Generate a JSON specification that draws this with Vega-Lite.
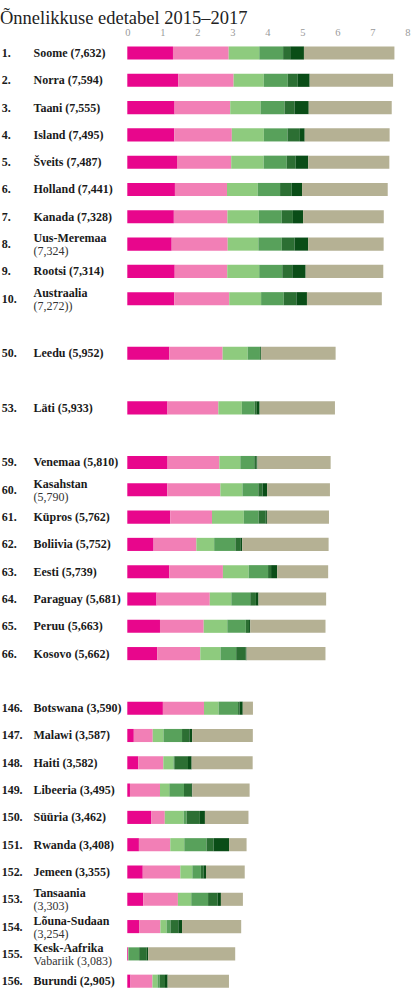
{
  "$schema": "https://vega.github.io/schema/vega-lite/v6.json",
  "width": 415,
  "height": 955.5,
  "autosize": {"type": "none"},
  "padding": {"top": 39.35, "left": 0, "right": 0, "bottom": 0},
  "title": {
    "text": "Õnnelikkuse edetabel 2015–2017",
    "anchor": "start",
    "font": "Liberation Serif",
    "fontSize": 18.5,
    "fontWeight": "normal",
    "color": "#222222",
    "offset": 0
  },
  "config": {"view": {"stroke": null}},
  "data": {
    "values": [
      {"k": "1", "r": "1.", "t1": "Soome (7,632)", "a": 1.305, "b": 1.592, "c": 0.874, "d": 0.681, "e": 0.202, "f": 0.393, "g": 2.585},
      {"k": "2", "r": "2.", "t1": "Norra (7,594)", "a": 1.456, "b": 1.582, "c": 0.861, "d": 0.686, "e": 0.286, "f": 0.340, "g": 2.383},
      {"k": "3", "r": "3.", "t1": "Taani (7,555)", "a": 1.351, "b": 1.590, "c": 0.868, "d": 0.683, "e": 0.284, "f": 0.408, "g": 2.371},
      {"k": "4", "r": "4.", "t1": "Island (7,495)", "a": 1.343, "b": 1.644, "c": 0.914, "d": 0.677, "e": 0.353, "f": 0.138, "g": 2.426},
      {"k": "5", "r": "5.", "t1": "Šveits (7,487)", "a": 1.420, "b": 1.549, "c": 0.927, "d": 0.660, "e": 0.256, "f": 0.357, "g": 2.318},
      {"k": "6", "r": "6.", "t1": "Holland (7,441)", "a": 1.361, "b": 1.488, "c": 0.878, "d": 0.638, "e": 0.333, "f": 0.295, "g": 2.448},
      {"k": "7", "r": "7.", "t1": "Kanada (7,328)", "a": 1.330, "b": 1.532, "c": 0.896, "d": 0.653, "e": 0.321, "f": 0.291, "g": 2.305},
      {"k": "8", "r": "8.", "t1": "Uus-Meremaa", "t2": "(7,324)", "a": 1.268, "b": 1.601, "c": 0.876, "d": 0.669, "e": 0.365, "f": 0.389, "g": 2.156},
      {"k": "9", "r": "9.", "t1": "Rootsi (7,314)", "a": 1.355, "b": 1.501, "c": 0.913, "d": 0.659, "e": 0.285, "f": 0.383, "g": 2.218},
      {"k": "10", "r": "10.", "t1": "Austraalia", "t2": "(7,272))", "a": 1.340, "b": 1.573, "c": 0.910, "d": 0.647, "e": 0.361, "f": 0.302, "g": 2.139},
      {"k": "50", "r": "50.", "t1": "Leedu (5,952)", "a": 1.197, "b": 1.527, "c": 0.716, "d": 0.350, "e": 0.026, "f": 0.006, "g": 2.130},
      {"k": "53", "r": "53.", "t1": "Läti (5,933)", "a": 1.148, "b": 1.454, "c": 0.671, "d": 0.363, "e": 0.065, "f": 0.080, "g": 2.152},
      {"k": "59", "r": "59.", "t1": "Venemaa (5,810)", "a": 1.151, "b": 1.479, "c": 0.599, "d": 0.399, "e": 0.065, "f": 0.025, "g": 2.092},
      {"k": "60", "r": "60.", "t1": "Kasahstan", "t2": "(5,790)", "a": 1.143, "b": 1.516, "c": 0.631, "d": 0.454, "e": 0.121, "f": 0.129, "g": 1.796},
      {"k": "61", "r": "61.", "t1": "Küpros (5,762)", "a": 1.229, "b": 1.191, "c": 0.909, "d": 0.423, "e": 0.202, "f": 0.035, "g": 1.773},
      {"k": "62", "r": "62.", "t1": "Boliivia (5,752)", "a": 0.751, "b": 1.223, "c": 0.508, "d": 0.606, "e": 0.141, "f": 0.054, "g": 2.469},
      {"k": "63", "r": "63.", "t1": "Eesti (5,739)", "a": 1.200, "b": 1.532, "c": 0.737, "d": 0.553, "e": 0.086, "f": 0.174, "g": 1.457},
      {"k": "64", "r": "64.", "t1": "Paraguay (5,681)", "a": 0.835, "b": 1.522, "c": 0.615, "d": 0.541, "e": 0.162, "f": 0.074, "g": 1.932},
      {"k": "65", "r": "65.", "t1": "Peruu (5,663)", "a": 0.934, "b": 1.249, "c": 0.674, "d": 0.530, "e": 0.092, "f": 0.034, "g": 2.150},
      {"k": "66", "r": "66.", "t1": "Kosovo (5,662)", "a": 0.855, "b": 1.230, "c": 0.578, "d": 0.448, "e": 0.274, "f": 0.023, "g": 2.254},
      {"k": "146", "r": "146.", "t1": "Botswana (3,590)", "a": 1.017, "b": 1.174, "c": 0.417, "d": 0.557, "e": 0.042, "f": 0.092, "g": 0.291},
      {"k": "147", "r": "147.", "t1": "Malawi (3,587)", "a": 0.186, "b": 0.541, "c": 0.306, "d": 0.531, "e": 0.210, "f": 0.080, "g": 1.733},
      {"k": "148", "r": "148.", "t1": "Haiti (3,582)", "a": 0.315, "b": 0.714, "c": 0.289, "d": 0.025, "e": 0.392, "f": 0.104, "g": 1.743},
      {"k": "149", "r": "149.", "t1": "Libeeria (3,495)", "a": 0.076, "b": 0.858, "c": 0.267, "d": 0.419, "e": 0.206, "f": 0.030, "g": 1.639},
      {"k": "150", "r": "150.", "t1": "Süüria (3,462)", "a": 0.689, "b": 0.382, "c": 0.539, "d": 0.088, "e": 0.376, "f": 0.144, "g": 1.244},
      {"k": "151", "r": "151.", "t1": "Rwanda (3,408)", "a": 0.332, "b": 0.896, "c": 0.400, "d": 0.636, "e": 0.200, "f": 0.444, "g": 0.500},
      {"k": "152", "r": "152.", "t1": "Jemeen (3,355)", "a": 0.442, "b": 1.073, "c": 0.343, "d": 0.244, "e": 0.083, "f": 0.064, "g": 1.106},
      {"k": "153", "r": "153.", "t1": "Tansaania", "t2": "(3,303)", "a": 0.455, "b": 0.991, "c": 0.381, "d": 0.481, "e": 0.270, "f": 0.097, "g": 0.628},
      {"k": "154", "r": "154.", "t1": "Lõuna-Sudaan", "t2": "(3,254)", "a": 0.337, "b": 0.608, "c": 0.177, "d": 0.112, "e": 0.224, "f": 0.106, "g": 1.690},
      {"k": "155", "r": "155.", "t1": "Kesk-Aafrika", "t2": "Vabariik (3,083)", "a": 0.024, "b": 0.000, "c": 0.010, "d": 0.305, "e": 0.218, "f": 0.038, "g": 2.488},
      {"k": "156", "r": "156.", "t1": "Burundi (2,905)", "a": 0.091, "b": 0.627, "c": 0.145, "d": 0.065, "e": 0.149, "f": 0.076, "g": 1.752}
    ]
  },
  "encoding": {
    "y": {
      "field": "k",
      "type": "nominal",
      "scale": {
        "domain": ["1", "2", "3", "4", "5", "6", "7", "8", "9", "10", "g1", "50", "g2", "53", "g3", "59", "60", "61", "62", "63", "64", "65", "66", "g4", "146", "147", "148", "149", "150", "151", "152", "153", "154", "155", "156"],
        "paddingInner": 0.52,
        "paddingOuter": 0.26
      },
      "axis": null
    }
  },
  "layer": [
    {
      "transform": [{"fold": ["a", "b", "c", "d", "e", "f", "g"], "as": ["komp", "v"]}],
      "mark": "bar",
      "encoding": {
        "x": {
          "field": "v",
          "type": "quantitative",
          "stack": "zero",
          "scale": {"domain": [-3.637, 8.22], "nice": false, "zero": false},
          "axis": {"orient": "top", "title": null, "values": [0, 1, 2, 3, 4, 5, 6, 7, 8], "ticks": false, "domain": false, "grid": false, "labelFont": "Liberation Serif", "labelFontSize": 10.5, "labelColor": "#9a9a9a", "labelPadding": 2}
        },
        "color": {
          "field": "komp",
          "type": "nominal",
          "scale": {
            "domain": ["a", "b", "c", "d", "e", "f", "g"],
            "range": ["#e8068c", "#f27fb6", "#8ecb7e", "#58a15b", "#2c6f33", "#0a4d17", "#b5b194"]
          },
          "legend": null
        },
        "order": {"field": "komp", "sort": "ascending"}
      }
    },
    {
      "mark": {"type": "text", "align": "left", "baseline": "middle", "font": "Liberation Serif", "fontWeight": "bold", "fontSize": 12, "color": "#1a1a1a"},
      "encoding": {
        "x": {"datum": -3.59, "type": "quantitative", "axis": {"orient": "top", "title": null, "values": [0, 1, 2, 3, 4, 5, 6, 7, 8], "ticks": false, "domain": false, "grid": false, "labelFont": "Liberation Serif", "labelFontSize": 10.5, "labelColor": "#9a9a9a", "labelPadding": 2}},
        "text": {"field": "r"}
      }
    },
    {
      "transform": [{"filter": "!datum.t2"}],
      "mark": {"type": "text", "align": "left", "baseline": "middle", "font": "Liberation Serif", "fontWeight": "bold", "fontSize": 12, "color": "#1a1a1a"},
      "encoding": {
        "x": {"datum": -2.68, "type": "quantitative", "axis": {"orient": "top", "title": null, "values": [0, 1, 2, 3, 4, 5, 6, 7, 8], "ticks": false, "domain": false, "grid": false, "labelFont": "Liberation Serif", "labelFontSize": 10.5, "labelColor": "#9a9a9a", "labelPadding": 2}},
        "text": {"field": "t1"}
      }
    },
    {
      "transform": [{"filter": "datum.t2"}],
      "mark": {"type": "text", "align": "left", "baseline": "middle", "font": "Liberation Serif", "fontWeight": "bold", "fontSize": 12, "color": "#1a1a1a", "dy": -6},
      "encoding": {
        "x": {"datum": -2.68, "type": "quantitative", "axis": {"orient": "top", "title": null, "values": [0, 1, 2, 3, 4, 5, 6, 7, 8], "ticks": false, "domain": false, "grid": false, "labelFont": "Liberation Serif", "labelFontSize": 10.5, "labelColor": "#9a9a9a", "labelPadding": 2}},
        "text": {"field": "t1"}
      }
    },
    {
      "transform": [{"filter": "datum.t2"}],
      "mark": {"type": "text", "align": "left", "baseline": "middle", "font": "Liberation Serif", "fontSize": 12, "color": "#333333", "dy": 7},
      "encoding": {
        "x": {"datum": -2.68, "type": "quantitative", "axis": {"orient": "top", "title": null, "values": [0, 1, 2, 3, 4, 5, 6, 7, 8], "ticks": false, "domain": false, "grid": false, "labelFont": "Liberation Serif", "labelFontSize": 10.5, "labelColor": "#9a9a9a", "labelPadding": 2}},
        "text": {"field": "t2"}
      }
    }
  ]
}
